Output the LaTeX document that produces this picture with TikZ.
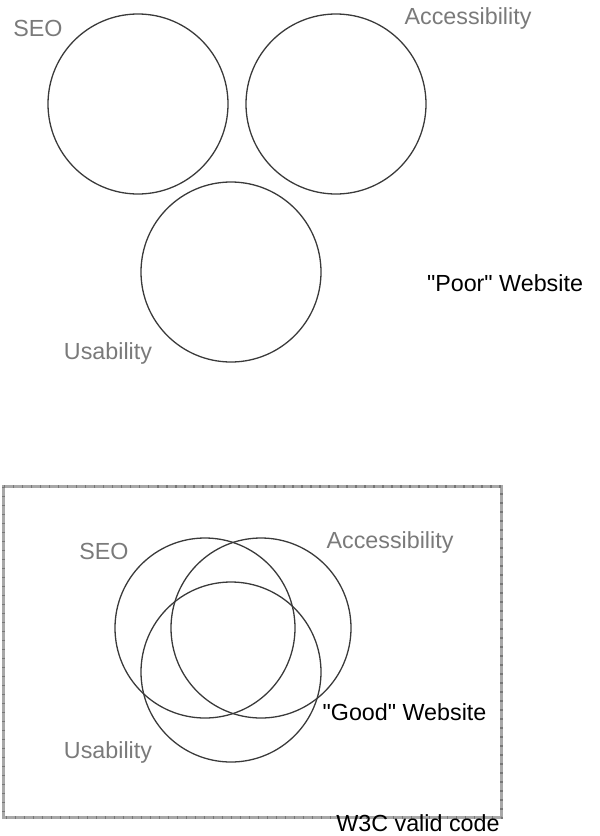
\documentclass[tikz,border=0pt]{standalone}
\usepackage{fontspec}
\setmainfont{Liberation Sans}[Ligatures=TeXOff]
\definecolor{ringc}{HTML}{3A3A3A}
\definecolor{labc}{HTML}{7A7A7A}
\definecolor{framec}{HTML}{A8A8A8}
\definecolor{tickc}{HTML}{777777}
\begin{document}
\begin{tikzpicture}[x=1pt,y=-1pt,
  ring/.style={circle,draw=ringc,line width=1.3pt,minimum size=180pt,inner sep=0pt},
  glab/.style={text=labc,font=\fontsize{23.3}{27}\selectfont,inner sep=0pt},
  blab/.style={text=black,font=\fontsize{23.3}{27}\selectfont,inner sep=0pt}]
\useasboundingbox (0,0) rectangle (600,836);
% top: poor website
\node[ring] (seo1) at (138,104) {};
\node[ring] (acc1) at (336,104) {};
\node[ring] (usa1) at (231,272) {};
\node[glab] (tseo1) at (38,28) {SEO};
\node[glab] (tacc1) at (468,18) {Accessibility};
\node[glab] (tusa1) at (108,353) {Usability};
\node[blab] (poor) at (505,283) {"Poor" Website};
% bottom: good website
\draw[framec,line width=3pt] (3.5,486.5) rectangle (501.5,817.5);
\draw[tickc,line width=3pt,dash pattern=on 1.5pt off 7.5pt] (3.5,486.5) rectangle (501.5,817.5);
\node[ring] (seo2) at (205,628) {};
\node[ring] (acc2) at (261,628) {};
\node[ring] (usa2) at (231,672) {};
\node[glab] (tseo2) at (104,551) {SEO};
\node[glab] (tacc2) at (390,542) {Accessibility};
\node[glab] (tusa2) at (108,752) {Usability};
\node[blab] (good) at (404.5,712) {"Good" Website};
\node[blab] (w3c) at (418,823) {W3C valid code};
\end{tikzpicture}
\end{document}
